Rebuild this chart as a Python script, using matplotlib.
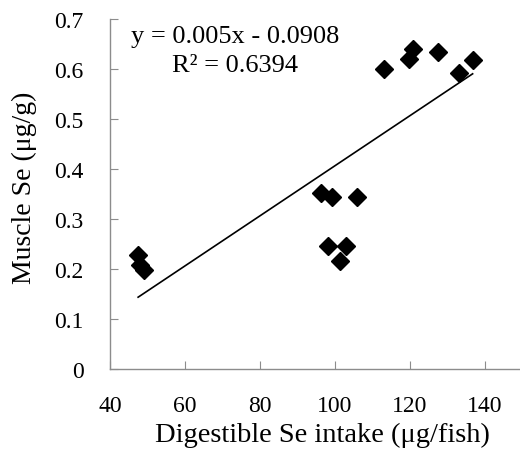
import numpy as np
import matplotlib.pyplot as plt

# digestible Se intake (ug/fish) vs muscle Se (ug/g)
se_intake = [47.5, 48.0, 49.0,
             96.3, 99.1, 105.8, 98.0, 102.9, 101.2,
             113.1, 119.8, 120.9, 127.5, 133.1, 136.7]
muscle_se = [0.228, 0.208, 0.198,
             0.352, 0.345, 0.345, 0.247, 0.247, 0.217,
             0.600, 0.620, 0.640, 0.635, 0.593, 0.618]

eq_text = "y = 0.005x - 0.0908\nR² = 0.6394"
x_ticks = [40, 60, 80, 100, 120, 140]
y_ticks = [0, 0.1, 0.2, 0.3, 0.4, 0.5, 0.6, 0.7]

plt.rcParams["font.family"] = ["Liberation Serif", "DejaVu Serif"]
plt.rcParams["font.size"] = 17

fig = plt.figure(figsize=(5.2, 4.56), dpi=100)
ax = fig.add_axes([110 / 520, 1 - 370 / 456, 412.5 / 520, 350 / 456])

x = np.asarray(se_intake)
y = np.asarray(muscle_se)
ax.plot(x, y, linestyle="none", marker="D", ms=9.5, color="black", zorder=3)

# linear trendline over the data range
k, b = np.polyfit(x, y, 1)
xs = np.array([x.min(), x.max()])
ax.plot(xs, k * xs + b, color="black", lw=1.2)

ax.text(73.3, 0.637, eq_text, ha="center", va="center", fontsize=19, linespacing=1.4)

ax.set_xlim(40, 150)
ax.set_ylim(0, 0.7)
ax.set_xticks(x_ticks)
ax.set_yticks(y_ticks)
ax.set_yticklabels([f"{v:g}" for v in y_ticks])

for s in ["top", "right"]:
    ax.spines[s].set_visible(False)
for s in ["left", "bottom"]:
    ax.spines[s].set_color("#8c8c8c")
    ax.spines[s].set_linewidth(1.0)
ax.tick_params(direction="in", length=6, color="#8c8c8c")
ax.tick_params(axis="x", pad=19)
ax.tick_params(axis="y", pad=19)

ax.set_xlabel("Digestible Se intake (μg/fish)", fontsize=20.5)
ax.set_ylabel("Muscle Se (μg/g)", fontsize=20)
ax.xaxis.set_label_coords((322 - 110) / 412.5, -53 / 350)
ax.yaxis.set_label_coords(-73 / 412.5, (370 - 188) / 350)

fig.savefig("out.png", dpi=100)
